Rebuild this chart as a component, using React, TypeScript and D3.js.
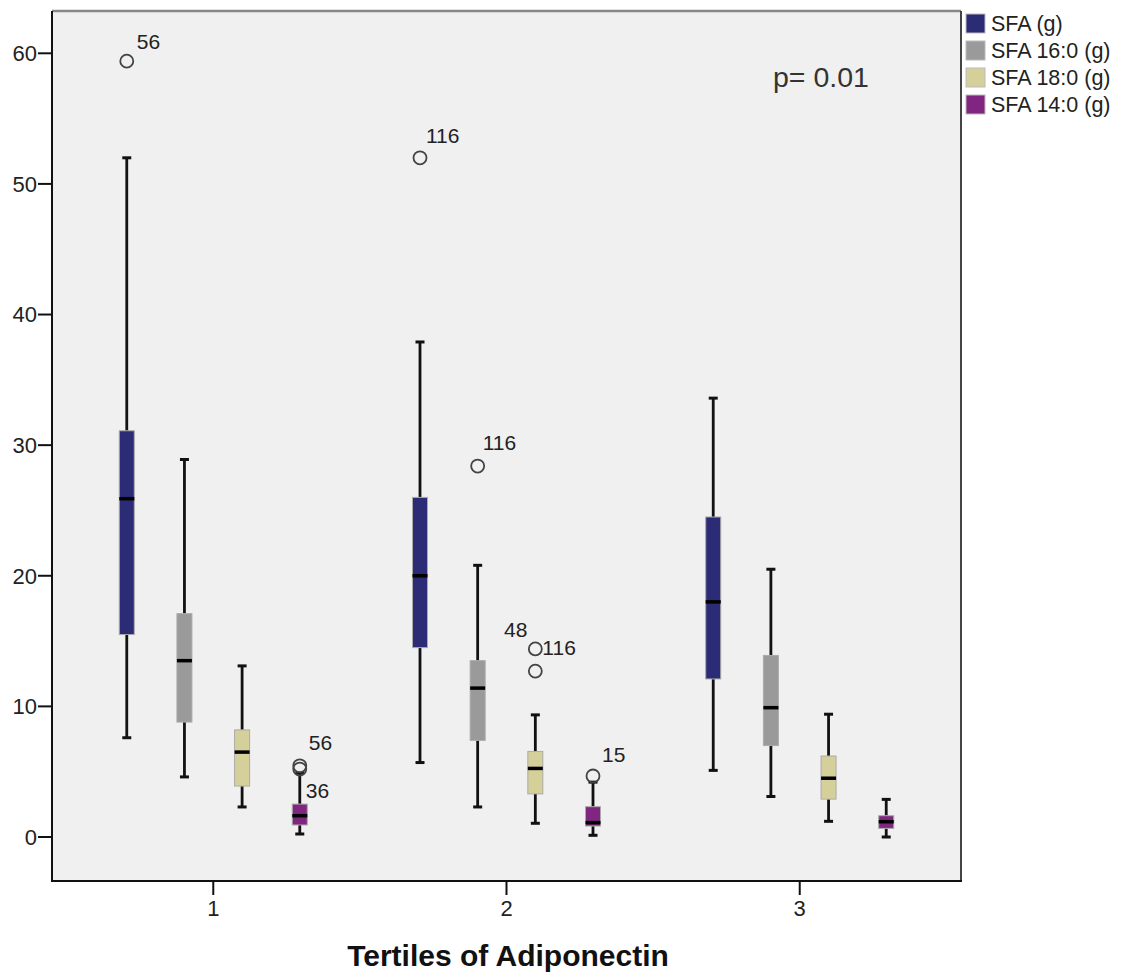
import * as d3 from "d3";

// categories and series
const tertiles = ["1", "2", "3"];
const series = ["SFA (g)", "SFA 16:0 (g)", "SFA 18:0 (g)", "SFA 14:0 (g)"];
const colors = ["#2b2b76", "#9a9a9a", "#d5d09a", "#802580"];

// [lower whisker, q1, median, q3, upper whisker] per tertile
const sfaTotal = [
  [7.6, 15.5, 25.9, 31.1, 52.0],
  [5.7, 14.5, 20.0, 26.0, 37.9],
  [5.1, 12.1, 18.0, 24.5, 33.6],
];
const sfa160 = [
  [4.6, 8.8, 13.5, 17.1, 28.9],
  [2.3, 7.4, 11.4, 13.5, 20.8],
  [3.1, 7.0, 9.9, 13.9, 20.5],
];
const sfa180 = [
  [2.3, 3.9, 6.5, 8.2, 13.1],
  [1.05, 3.3, 5.25, 6.55, 9.35],
  [1.2, 2.9, 4.5, 6.2, 9.4],
];
const sfa140 = [
  [0.23, 0.92, 1.63, 2.52, 4.9],
  [0.13, 0.84, 1.1, 2.32, 4.2],
  [0.0, 0.66, 1.17, 1.63, 2.88],
];
const boxData = [sfaTotal, sfa160, sfa180, sfa140];

// outliers: series index, tertile index, value
const outliers = [
  { s: 0, t: 0, v: 59.4 },
  { s: 3, t: 0, v: 5.45 },
  { s: 3, t: 0, v: 5.2 },
  { s: 0, t: 1, v: 52.0 },
  { s: 1, t: 1, v: 28.4 },
  { s: 2, t: 1, v: 14.4 },
  { s: 2, t: 1, v: 12.7 },
  { s: 3, t: 1, v: 4.67 },
];

// case labels: series, tertile, value of the point they belong to
const outlierLabels = [
  { s: 0, t: 0, v: 59.4, text: "56" },
  { s: 3, t: 0, v: 5.45, text: "56" },
  { s: 3, t: 0, v: 5.2, text: "36" },
  { s: 0, t: 1, v: 52.0, text: "116" },
  { s: 1, t: 1, v: 28.4, text: "116" },
  { s: 2, t: 1, v: 14.4, text: "48" },
  { s: 2, t: 1, v: 14.4, text: "116" },
  { s: 3, t: 1, v: 4.67, text: "15" },
];
// where each label sits relative to its point
const labelPlacement = [
  { dx: 10, dy: -12, anchor: "start" },
  { dx: 9, dy: -16, anchor: "start" },
  { dx: 6, dy: 29, anchor: "start" },
  { dx: 6, dy: -15, anchor: "start" },
  { dx: 5, dy: -16, anchor: "start" },
  { dx: -8, dy: -12, anchor: "end" },
  { dx: 7, dy: 6, anchor: "start" },
  { dx: 9, dy: -14, anchor: "start" },
];

const yTicks = [0, 10, 20, 30, 40, 50, 60];
const pText = "p= 0.01";
const xTitle = "Tertiles of Adiponectin";

const font = "'Liberation Sans', Arial, sans-serif";

export default function App() {
  const W = 1126;
  const H = 974;
  const left = 52;
  const right = 961;
  const top = 11;
  const bottom = 881;

  const x = d3.scalePoint().domain(tertiles).range([left, right]).padding(0.55);
  const xs = d3.scalePoint().domain(series).range([-86.5, 86.5]);
  const y = d3.scaleLinear().domain([0, 60]).range([837, 53.3]);

  const bw = 15;
  const capW = 9;

  const cx = (s: number, t: number) => (x(tertiles[t]) as number) + (xs(series[s]) as number);

  return (
    <svg width={W} height={H} style={{ position: "absolute", left: 0, top: 0, background: "#fff" }} fontFamily={font}>
      {/* plot area */}
      <rect x={left} y={top} width={right - left} height={bottom - top} fill="#f0f0f0" />
      <line x1={left} x2={right} y1={top} y2={top} stroke="#888" strokeWidth={2.5} />
      <line x1={right} x2={right} y1={top} y2={bottom} stroke="#444" strokeWidth={2} />
      <line x1={left} x2={left} y1={top} y2={bottom + 1} stroke="#111" strokeWidth={2} />
      <line x1={left} x2={right + 1} y1={bottom} y2={bottom} stroke="#111" strokeWidth={2} />

      {/* y axis */}
      {yTicks.map((t) => (
        <g key={t}>
          <line x1={left - 14} x2={left} y1={y(t)} y2={y(t)} stroke="#111" strokeWidth={2} />
          <text x={left - 15} y={y(t)} dy="0.36em" textAnchor="end" fontSize={22} fill="#222">
            {t}
          </text>
        </g>
      ))}

      {/* x axis */}
      {tertiles.map((t) => (
        <g key={t}>
          <line x1={x(t)} x2={x(t)} y1={bottom} y2={bottom + 14} stroke="#111" strokeWidth={2} />
          <text x={x(t)} y={916} textAnchor="middle" fontSize={22} fill="#222">
            {t}
          </text>
        </g>
      ))}
      <text x={508} y={966} textAnchor="middle" fontSize={30} fontWeight="bold" fill="#111">
        {xTitle}
      </text>

      {/* boxes */}
      {boxData.map((rows, s) =>
        rows.map((d, t) => {
          const c = cx(s, t);
          const [lo, q1, med, q3, hi] = d;
          return (
            <g key={`${s}-${t}`}>
              <line x1={c} x2={c} y1={y(hi)} y2={y(q3)} stroke="#111" strokeWidth={2.8} />
              <line x1={c} x2={c} y1={y(q1)} y2={y(lo)} stroke="#111" strokeWidth={2.8} />
              <line x1={c - capW / 2} x2={c + capW / 2} y1={y(hi)} y2={y(hi)} stroke="#111" strokeWidth={3} />
              <line x1={c - capW / 2} x2={c + capW / 2} y1={y(lo)} y2={y(lo)} stroke="#111" strokeWidth={3} />
              <rect
                x={c - bw / 2}
                y={y(q3)}
                width={bw}
                height={y(q1) - y(q3)}
                fill={colors[s]}
                stroke="#aaa"
                strokeWidth={1}
              />
              <line x1={c - bw / 2} x2={c + bw / 2} y1={y(med)} y2={y(med)} stroke="#000" strokeWidth={3.5} />
            </g>
          );
        })
      )}

      {/* outliers */}
      {outliers.map((o, i) => (
        <circle key={i} cx={cx(o.s, o.t)} cy={y(o.v)} r={6.5} fill="none" stroke="#444" strokeWidth={1.8} />
      ))}
      {outlierLabels.map((l, i) => (
        <text
          key={i}
          x={cx(l.s, l.t) + labelPlacement[i].dx}
          y={y(l.v) + labelPlacement[i].dy}
          textAnchor={labelPlacement[i].anchor}
          fontSize={21}
          fill="#222"
        >
          {l.text}
        </text>
      ))}

      <text x={773} y={87} fontSize={28.5} fill="#333">
        {pText}
      </text>

      {/* legend */}
      {series.map((s, i) => (
        <g key={s} transform={`translate(966, ${14 + i * 27})`}>
          <rect x={0} y={0} width={19} height={19} fill={colors[i]} stroke="#bbb" strokeWidth={1} />
          <text x={25} y={9.5} dy="0.36em" fontSize={21.5} fill="#222">
            {s}
          </text>
        </g>
      ))}
    </svg>
  );
}
